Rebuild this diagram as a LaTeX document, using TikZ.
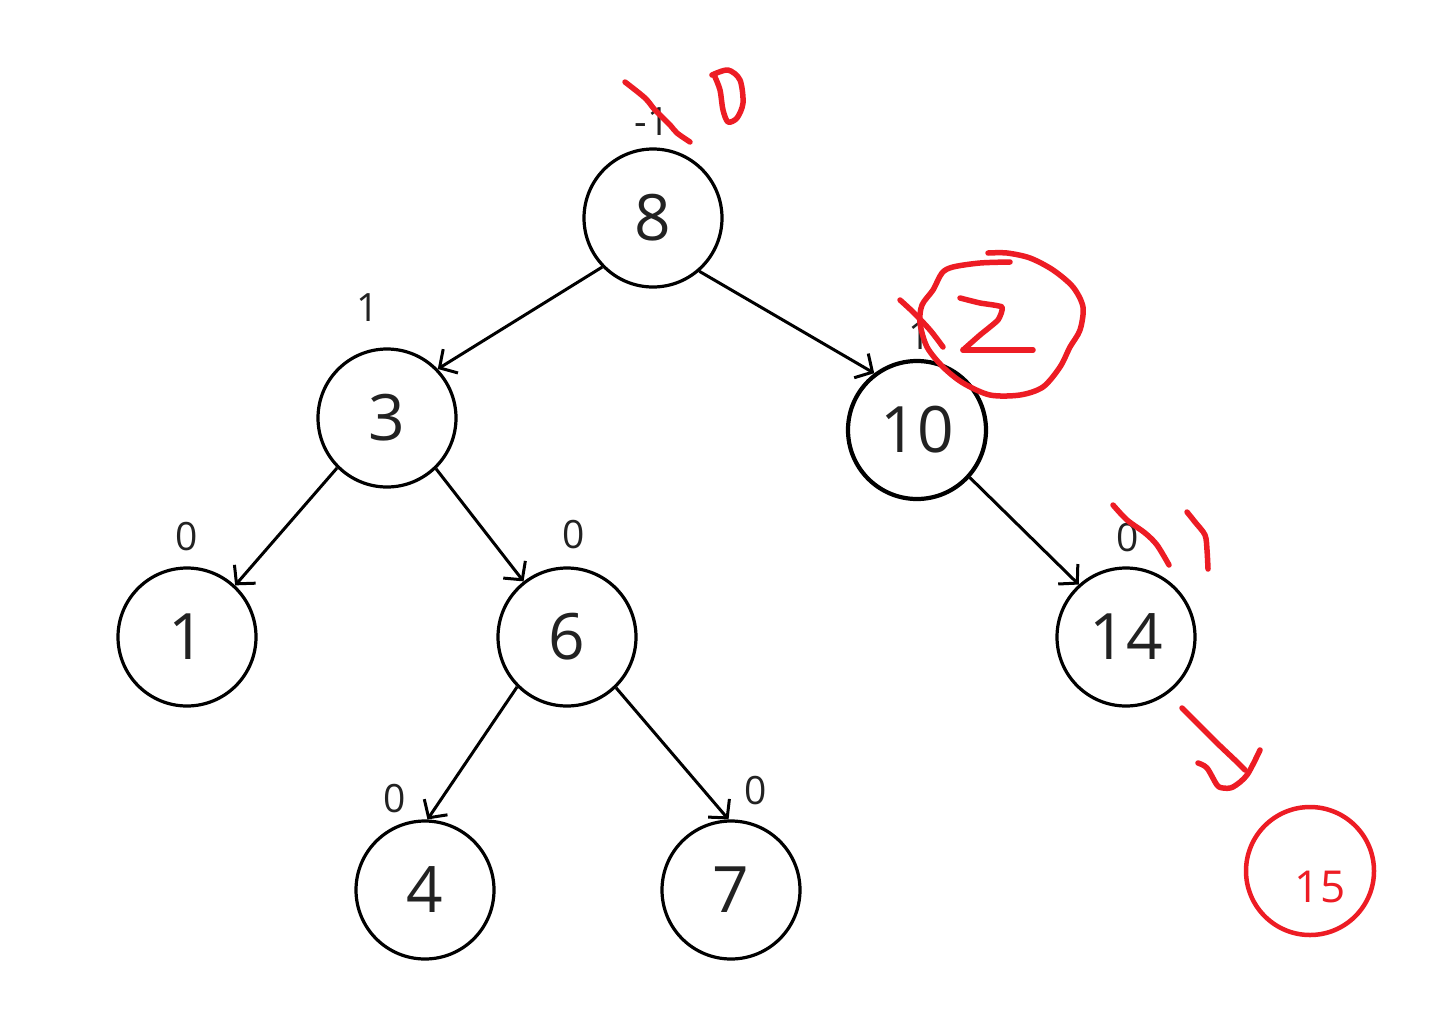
\documentclass[tikz,border=0pt]{standalone}
\usepackage{fontspec}
\setmainfont{Open Sans}
\usetikzlibrary{arrows.meta}
\definecolor{pen}{HTML}{ED1C24}
\definecolor{ink}{HTML}{222222}
\tikzset{
  tnode/.style={circle,draw=black,line width=3.2pt,minimum size=138pt,inner sep=0pt,
    text=ink,font=\fontsize{64}{64}\selectfont},
  bal/.style={text=ink,font=\fontsize{39}{39}\selectfont,inner sep=0pt},
  edge/.style={draw=black,line width=3pt,-{Straight Barb[length=13pt,width=28pt]}},
  redstroke/.style={draw=pen,line width=5.5pt,line cap=round,line join=round}
}
\begin{document}
\begin{tikzpicture}[x=1pt,y=-1pt]
\useasboundingbox[fill=white] (0,0) rectangle (1430,1010);
% nodes
\node[tnode] (n8) at (653,218) {8};
\node[tnode] (n3) at (387,418) {3};
\node[tnode,line width=4.2pt] (n10) at (917,430) {10};
\node[tnode] (n1) at (187,637) {1};
\node[tnode] (n6) at (567,637) {6};
\node[tnode] (n14) at (1126,637) {14};
\node[tnode] (n4) at (425,890) {4};
\node[tnode] (n7) at (731,890) {7};
% balance labels
\node[bal] (b8) at (652,122) {-1};
\node[bal] (b3) at (368,308) {1};
\node[bal] (b10) at (920,336) {1};
\node[bal] (b1) at (187,537) {0};
\node[bal] (b6) at (574,535) {0};
\node[bal] (b14) at (1128,538) {0};
\node[bal] (b4) at (395,799) {0};
\node[bal] (b7) at (756,791) {0};
% edges
\draw[edge] (n8.224) -- (n3.44);
\draw[edge] (n8.311) -- (n10.127);
\draw[edge] (n3.225) -- (n1.47);
\draw[edge] (n3.314) -- (n6.128);
\draw[edge] (n10.318) -- (n14.132);
\draw[edge] (n6.225) -- (n4.88);
\draw[edge] (n6.314) -- (n7.92);
% red annotations
\draw[redstroke] plot[smooth] coordinates {(625,82) (645,98) (655,110) (670,125) (677,133) (690,142)};
\draw[redstroke] plot[smooth] coordinates {(712,75) (728,70) (740,80) (743,103) (737,118) (728,122) (723,110) (720,90) (715,77)};
\draw[redstroke] plot[smooth] coordinates {(900,300) (913,312) (930,330) (943,347)};
\draw[redstroke] plot[smooth,tension=0.3] coordinates {(960,298) (980,303) (1002,307) (998,320) (980,335) (963,350)};
\draw[redstroke] (963,350) -- (1033,350);
\draw[redstroke] plot[smooth] coordinates {(1010,262) (980,263) (953,267) (942,273) (933,290) (922,305) (920,323) (927,347) (943,367) (963,383) (990,395) (1020,395) (1043,387) (1060,367) (1070,347) (1080,330) (1083,307) (1073,287) (1053,270) (1030,258) (1007,253) (988,253)};
\draw[redstroke] plot[smooth] coordinates {(1113,505) (1127,520) (1145,533) (1157,545) (1169,565)};
\draw[redstroke] plot[smooth] coordinates {(1187,512) (1195,522) (1205,535) (1207,550) (1208,569)};
\draw[redstroke] plot[smooth] coordinates {(1182,708) (1197,723) (1217,743) (1237,762) (1245,770)};
\draw[redstroke] plot[smooth] coordinates {(1198,763) (1207,768) (1217,785) (1223,788) (1233,787) (1247,775) (1260,750)};
\node[circle,draw=pen,line width=4.5pt,minimum size=128pt,inner sep=0pt] (n15) at (1310,871) {};
\node[text=pen,font=\fontsize{44}{44}\selectfont,inner sep=0pt] (t15) at (1320,887) {15};
\end{tikzpicture}
\end{document}
